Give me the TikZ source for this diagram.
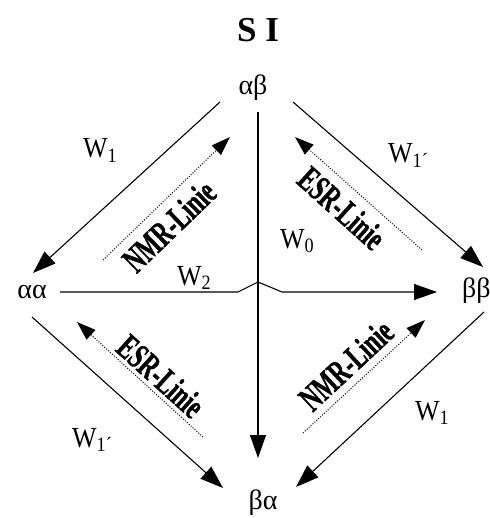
\documentclass[tikz,border=0pt]{standalone}
\usepackage{fontspec}
\usepackage{graphicx}
\setmainfont{Liberation Serif}
\newfontfamily\specfont[FakeBold=1.2]{Liberation Serif Bold}
\usetikzlibrary{arrows.meta,calc}
\tikzset{
  conn/.style={line width=1.1pt,-{Triangle[length=23pt,width=16pt]}},
  specarrow/.style={line width=1pt,dash pattern=on 1pt off 1.6pt,-{Triangle[length=19pt,width=13pt]}},
  statelab/.style={inner sep=0pt,font=\fontsize{28}{28}\selectfont},
  ratelab/.style={inner sep=0pt,anchor=base west,font=\fontsize{26}{26}\selectfont},
  speclab/.style={inner sep=0pt,font=\fontsize{23}{23}\specfont},
}
\newcommand\ratetxt[1]{\scalebox{1}[1.12]{W\textsubscript{#1}}}
\newcommand\spectxt[1]{\scalebox{1}[1.55]{#1}}
\begin{document}
\begin{tikzpicture}[x=1pt,y=-1pt]
\useasboundingbox (0,0) rectangle (489,518);
% title
\node[inner sep=0pt,anchor=base,font=\fontsize{35}{35}\selectfont\bfseries] (title) at (258,42) {S I};
% states
\node[statelab] (ab) at (253,88) {αβ};
\node[statelab] (aa) at (32,292) {αα};
\node[statelab,anchor=west] (bb) at (462,291) {ββ};
\node[statelab] (ba) at (263,503) {βα};
% bump coordinates of the W2 line
\coordinate (h1) at (238,292);
\coordinate (h2) at (258,282);
\coordinate (h3) at (282,292);
% transitions
\draw[conn] ($(ab)+(-33,14)$) -- ($(aa)+(1,-19)$);
\draw[conn] ($(ab)+(40,14)$) -- ($(bb.west)+(21,-24)$);
\draw[conn] ($(aa)+(0,25)$) -- ($(ba)+(-40,-15)$);
\draw[conn] ($(bb.west)+(22,21)$) -- ($(ba)+(33,-16)$);
\draw[conn] ($(ab)+(5,24)$) -- ($(ba)+(-5,-45)$);
\draw[conn] ($(aa)+(28,0)$) -- (h1) -- (h2) -- (h3) -- ($(bb.west)+(-25,1)$);
% rate labels
\node[ratelab] (w1a) at (83,158) {\ratetxt{1}};
\node[ratelab] (w1b) at (388,163) {\ratetxt{1´}};
\node[ratelab] (w0) at (280,248) {\ratetxt{0}};
\node[ratelab] (w2) at (177,285) {\ratetxt{2}};
\node[ratelab] (w1c) at (72,447) {\ratetxt{1´}};
\node[ratelab] (w1d) at (415,420) {\ratetxt{1}};
% spectral lines
\coordinate (n1s) at (103,260); \coordinate (n1e) at (230,137);
\coordinate (e1s) at (422,250); \coordinate (e1e) at (295,137);
\coordinate (e2s) at (203,437); \coordinate (e2e) at (77,322);
\coordinate (n2s) at (303,433); \coordinate (n2e) at (425,320);
\draw[specarrow] (n1s) -- (n1e);
\draw[specarrow] (e1s) -- (e1e);
\draw[specarrow] (e2s) -- (e2e);
\draw[specarrow] (n2s) -- (n2e);
\node[speclab,rotate=44] (nmr1) at (169,226) {\spectxt{NMR-Linie}};
\node[speclab,rotate=-42] (esr1) at (342,208) {\spectxt{ESR-Linie}};
\node[speclab,rotate=-42] (esr2) at (161,376) {\spectxt{ESR-Linie}};
\node[speclab,rotate=43] (nmr2) at (346,365) {\spectxt{NMR-Linie}};
\end{tikzpicture}
\end{document}
